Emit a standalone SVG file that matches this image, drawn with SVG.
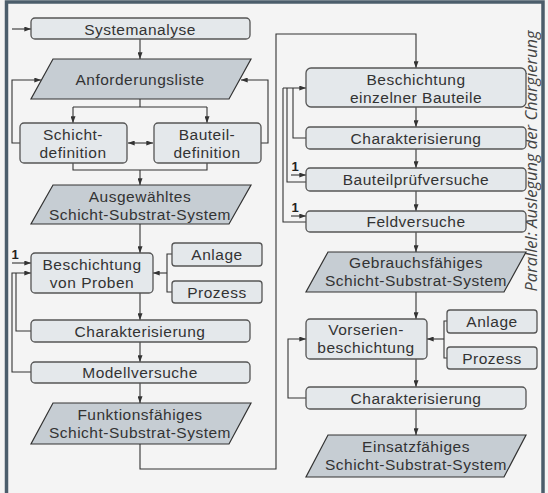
<svg xmlns="http://www.w3.org/2000/svg" width="548" height="493" viewBox="0 0 548 493">
<defs>
<marker id="ah" viewBox="0 0 8 6" refX="8" refY="3" markerWidth="7" markerHeight="5" markerUnits="userSpaceOnUse" orient="auto-start-reverse">
<path d="M0,0 L8,3 L0,6 z" fill="#333"/>
</marker>
<style>
.box{fill:#e4e8eb;stroke:#555;stroke-width:1.3}
.par{fill:#c6cdd3;stroke:#333;stroke-width:1.2}
.t{font-family:"Liberation Sans",Arial,sans-serif;font-size:15.5px;letter-spacing:0.5px;fill:#333;text-anchor:middle}
.one{font-family:"Liberation Sans",Arial,sans-serif;font-size:13px;font-weight:bold;fill:#222;text-anchor:middle}
.c{fill:none;stroke:#333;stroke-width:1.1}
.a{marker-end:url(#ah)}
</style>
</defs>
<rect x="0" y="0" width="548" height="493" fill="#f4f4f4"/>
<path d="M6.5,493 V2 H543 V493" fill="none" stroke="#4b5d6b" stroke-width="3.5"/>
<text x="537" y="161" transform="rotate(-90 537 161)" font-family="Open Sans, Noto Sans, sans-serif" font-size="16.5" font-style="italic" fill="#444" text-anchor="middle">Parallel: Auslegung der Chargierung</text>

<g id="connectors">
<path class="c a" d="M12,29 H31"/>
<path class="c a" d="M140,39 V59"/>
<path class="c" d="M140,99 V107 M73,107 H207"/>
<path class="c a" d="M73,107 V123"/>
<path class="c a" d="M207,107 V123"/>
<path class="c" d="M128,143 H153" marker-start="url(#ah)" marker-end="url(#ah)"/>
<path class="c a" d="M20,143 H12 V80 H41"/>
<path class="c a" d="M261,143 H268 V80 H241"/>
<path class="c" d="M73,163 V170 H207 V163"/>
<path class="c a" d="M140,170 V185"/>
<path class="c a" d="M140,224 V253"/>
<path class="c a" d="M12,263 H31"/>
<path class="c" d="M172,254 H167 V292 H172"/>
<path class="c a" d="M167,273 H153"/>
<path class="c a" d="M140,293 V320"/>
<path class="c" d="M31,331 H16 V273"/>
<path class="c a" d="M31,372 H12 V273 H31"/>
<path class="c a" d="M140,342 V362"/>
<path class="c a" d="M140,383 V403"/>
<path class="c a" d="M140,444 V469 H276 V34 H416 V68"/>
<path class="c a" d="M306,138 H293 V88 H283 H306"/>
<path class="c" d="M306,182 H287 V88"/>
<path class="c" d="M306,222 H283 V88"/>
<path class="c a" d="M291,175 H306"/>
<path class="c a" d="M291,216 H306"/>
<path class="c a" d="M416,107 V127"/>
<path class="c a" d="M416,149 V168"/>
<path class="c a" d="M416,191 V211"/>
<path class="c a" d="M416,232 V252"/>
<path class="c a" d="M416,292 V319"/>
<path class="c" d="M447,321 H444 V358 H447"/>
<path class="c a" d="M444,339 H427"/>
<path class="c a" d="M416,359 V387"/>
<path class="c a" d="M306,398 H288 V339 H306"/>
<path class="c a" d="M416,409 V435"/>
</g>

<text class="one" x="15" y="259">1</text>
<text class="one" x="295" y="171">1</text>
<text class="one" x="295" y="212">1</text>

<g id="n-systemanalyse"><rect class="box" x="31" y="18" width="219" height="21" rx="4"/><text class="t" x="140" y="34.5">Systemanalyse</text></g>
<g id="n-anforderungsliste"><polygon class="par" points="53,59 251,59 229,99 31,99"/><text class="t" x="140" y="85">Anforderungsliste</text></g>
<g id="n-schicht"><rect class="box" x="20" y="123" width="107" height="40" rx="4"/><text class="t" x="73" y="140">Schicht-</text><text class="t" x="73" y="158">definition</text></g>
<g id="n-bauteil"><rect class="box" x="154" y="123" width="107" height="40" rx="4"/><text class="t" x="207" y="140">Bauteil-</text><text class="t" x="207" y="158">definition</text></g>
<g id="n-ausgewaehltes"><polygon class="par" points="53,185 251,185 229,224 31,224"/><text class="t" x="140" y="202">Ausgewähltes</text><text class="t" x="140" y="220">Schicht-Substrat-System</text></g>
<g id="n-proben"><rect class="box" x="31" y="253" width="122" height="40" rx="4"/><text class="t" x="92" y="270">Beschichtung</text><text class="t" x="92" y="288">von Proben</text></g>
<g id="n-anlage1"><rect class="box" x="172" y="243" width="90" height="23" rx="3"/><text class="t" x="217" y="260">Anlage</text></g>
<g id="n-prozess1"><rect class="box" x="172" y="281" width="90" height="22" rx="3"/><text class="t" x="217" y="298">Prozess</text></g>
<g id="n-char1"><rect class="box" x="31" y="320" width="219" height="22" rx="4"/><text class="t" x="140" y="336.5">Charakterisierung</text></g>
<g id="n-modell"><rect class="box" x="31" y="362" width="219" height="21" rx="4"/><text class="t" x="140" y="378">Modellversuche</text></g>
<g id="n-funktion"><polygon class="par" points="53,403 251,403 229,444 31,444"/><text class="t" x="140" y="420">Funktionsfähiges</text><text class="t" x="140" y="438">Schicht-Substrat-System</text></g>

<g id="n-bauteile"><rect class="box" x="306" y="68" width="220" height="39" rx="5"/><text class="t" x="416" y="85">Beschichtung</text><text class="t" x="416" y="103">einzelner Bauteile</text></g>
<g id="n-char2"><rect class="box" x="306" y="127" width="220" height="22" rx="4"/><text class="t" x="416" y="143.5">Charakterisierung</text></g>
<g id="n-pruef"><rect class="box" x="306" y="168" width="220" height="23" rx="4"/><text class="t" x="416" y="185">Bauteilprüfversuche</text></g>
<g id="n-feld"><rect class="box" x="306" y="211" width="220" height="21" rx="4"/><text class="t" x="416" y="227">Feldversuche</text></g>
<g id="n-gebrauch"><polygon class="par" points="328,252 526,252 504,292 306,292"/><text class="t" x="416" y="268">Gebrauchsfähiges</text><text class="t" x="416" y="286">Schicht-Substrat-System</text></g>
<g id="n-vorserien"><rect class="box" x="306" y="319" width="121" height="40" rx="4"/><text class="t" x="366" y="335">Vorserien-</text><text class="t" x="366" y="353">beschichtung</text></g>
<g id="n-anlage2"><rect class="box" x="447" y="310" width="90" height="23" rx="3"/><text class="t" x="492" y="327">Anlage</text></g>
<g id="n-prozess2"><rect class="box" x="447" y="347" width="90" height="22" rx="3"/><text class="t" x="492" y="364">Prozess</text></g>
<g id="n-char3"><rect class="box" x="306" y="387" width="220" height="22" rx="4"/><text class="t" x="416" y="403.5">Charakterisierung</text></g>
<g id="n-einsatz"><polygon class="par" points="328,435 526,435 504,477 306,477"/><text class="t" x="416" y="452">Einsatzfähiges</text><text class="t" x="416" y="470">Schicht-Substrat-System</text></g>
</svg>
